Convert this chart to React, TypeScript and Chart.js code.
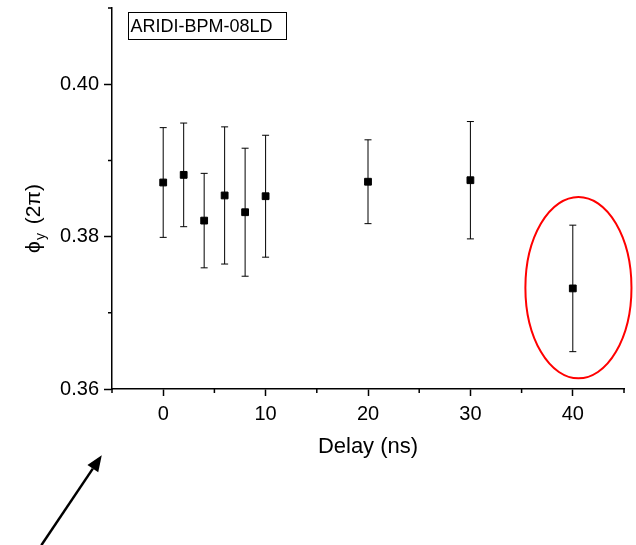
import React, { useEffect, useRef } from "react";
import { Chart, registerables } from "chart.js";

Chart.register(...registerables);

// ---- data ----
const delays = [0, 2, 4, 6, 8, 10, 20, 30, 40];
const phaseY = [0.3871, 0.3881, 0.3821, 0.3854, 0.3832, 0.3853, 0.3872, 0.3874, 0.3732];
const phaseErr = [0.0072, 0.0068, 0.0062, 0.009, 0.0084, 0.008, 0.0055, 0.0077, 0.0083];

const xRange = [-5, 45];
const yRange = [0.36, 0.41];
const xMajorTicks = [0, 10, 20, 30, 40];
const xMinorTicks = [-5, 5, 15, 25, 35, 45];
const yMajorTicks = [0.36, 0.38, 0.4];
const yMinorTicks = [0.37, 0.39, 0.41];

const xTitle = "Delay (ns)";
const yTitleMain = "\u03D5";
const yTitleSub = "y";
const yTitleRest = " (2\u03C0)";
const boxLabel = "ARIDI-BPM-08LD";

// annotations in data units
const boxAnchor = [-3.4, 0.4095];
const highlightCenter = [40.55, 0.3733];
const highlightRadii = [5.18, 0.0119];
const arrowTail = [-11.9, 0.3395];
const arrowTip = [-6.0, 0.3513];

const FONT = "'Liberation Sans', Arial, Helvetica, sans-serif";

const overlay = {
  id: "overlay",
  beforeDatasetsDraw(chart: any) {
    const { ctx, scales } = chart;
    const x = scales.x;
    const y = scales.y;
    ctx.save();
    ctx.strokeStyle = "#000";
    ctx.lineWidth = 1;
    delays.forEach((d, i) => {
      const px = x.getPixelForValue(d);
      const top = y.getPixelForValue(phaseY[i] + phaseErr[i]);
      const bot = y.getPixelForValue(phaseY[i] - phaseErr[i]);
      ctx.beginPath();
      ctx.moveTo(px, top);
      ctx.lineTo(px, bot);
      ctx.moveTo(px - 3.5, top);
      ctx.lineTo(px + 3.5, top);
      ctx.moveTo(px - 3.5, bot);
      ctx.lineTo(px + 3.5, bot);
      ctx.stroke();
    });
    ctx.restore();
  },
  afterDraw(chart: any) {
    const { ctx, scales, chartArea } = chart;
    const x = scales.x;
    const y = scales.y;
    ctx.save();
    // minor ticks
    ctx.strokeStyle = "#000";
    ctx.lineWidth = 1.5;
    ctx.beginPath();
    xMinorTicks.forEach((v) => {
      const px = x.getPixelForValue(v);
      ctx.moveTo(px, chartArea.bottom);
      ctx.lineTo(px, chartArea.bottom + 4);
    });
    yMinorTicks.forEach((v) => {
      const py = y.getPixelForValue(v);
      ctx.moveTo(chartArea.left - 4, py);
      ctx.lineTo(chartArea.left, py);
    });
    ctx.stroke();

    // y title, rotated, with subscript
    ctx.save();
    ctx.translate(chartArea.left - 72, (chartArea.top + chartArea.bottom) / 2 + 20);
    ctx.rotate(-Math.PI / 2);
    ctx.fillStyle = "#000";
    ctx.textBaseline = "alphabetic";
    ctx.textAlign = "left";
    const mainFont = `21px ${FONT}`;
    const subFont = `14px ${FONT}`;
    ctx.font = mainFont;
    const w1 = ctx.measureText(yTitleMain).width;
    const w3 = ctx.measureText(yTitleRest).width;
    ctx.font = subFont;
    const w2 = ctx.measureText(yTitleSub).width;
    const total = w1 + 1 + w2 + 3 + w3;
    let cx = -total / 2;
    ctx.font = mainFont;
    ctx.fillText(yTitleMain, cx, 0);
    cx += w1 + 1;
    ctx.font = subFont;
    ctx.fillText(yTitleSub, cx, 5);
    cx += w2 + 3;
    ctx.font = mainFont;
    ctx.fillText(yTitleRest, cx, 0);
    ctx.restore();

    // label box
    ctx.font = `18px ${FONT}`;
    const bx = x.getPixelForValue(boxAnchor[0]);
    const by = y.getPixelForValue(boxAnchor[1]);
    const tw = ctx.measureText(boxLabel).width;
    ctx.lineWidth = 1;
    ctx.strokeRect(Math.round(bx) + 0.5, Math.round(by) + 0.5, Math.round(tw + 16), 27);
    ctx.fillStyle = "#000";
    ctx.textBaseline = "alphabetic";
    ctx.fillText(boxLabel, bx + 2, by + 20);

    // red highlight ellipse
    const ex = x.getPixelForValue(highlightCenter[0]);
    const ey = y.getPixelForValue(highlightCenter[1]);
    const erx = Math.abs(x.getPixelForValue(highlightCenter[0] + highlightRadii[0]) - ex);
    const ery = Math.abs(y.getPixelForValue(highlightCenter[1] + highlightRadii[1]) - ey);
    ctx.strokeStyle = "#ff0000";
    ctx.lineWidth = 2;
    ctx.beginPath();
    ctx.ellipse(ex, ey, erx, ery, 0, 0, Math.PI * 2);
    ctx.stroke();

    // arrow
    const tx = x.getPixelForValue(arrowTail[0]);
    const ty = y.getPixelForValue(arrowTail[1]);
    const hx = x.getPixelForValue(arrowTip[0]);
    const hy = y.getPixelForValue(arrowTip[1]);
    const ang = Math.atan2(hy - ty, hx - tx);
    const headLen = 16;
    const headHalf = 6.5;
    const baseX = hx - headLen * Math.cos(ang);
    const baseY = hy - headLen * Math.sin(ang);
    ctx.strokeStyle = "#000";
    ctx.fillStyle = "#000";
    ctx.lineWidth = 2.5;
    ctx.beginPath();
    ctx.moveTo(tx, ty);
    ctx.lineTo(baseX, baseY);
    ctx.stroke();
    ctx.beginPath();
    ctx.moveTo(hx, hy);
    ctx.lineTo(baseX + headHalf * Math.sin(ang), baseY - headHalf * Math.cos(ang));
    ctx.lineTo(baseX - headHalf * Math.sin(ang), baseY + headHalf * Math.cos(ang));
    ctx.closePath();
    ctx.fill();
    ctx.restore();
  },
};

export default function App() {
  const ref = useRef<HTMLCanvasElement | null>(null);
  useEffect(() => {
    document.body.style.margin = "0";
    const canvas = ref.current;
    if (!canvas) return;
    const chart = new Chart(canvas, {
      type: "scatter",
      data: {
        datasets: [
          {
            data: delays.map((d, i) => ({ x: d, y: phaseY[i] })),
            backgroundColor: "#000",
            borderColor: "#000",
            borderWidth: 1,
            pointStyle: "rect",
            pointRadius: 4.8,
            showLine: false,
          },
        ],
      },
      options: {
        animation: false,
        responsive: false,
        devicePixelRatio: 1,
        layout: { padding: { top: 8, right: 12, left: 0, bottom: 0 } },
        plugins: { legend: { display: false }, tooltip: { enabled: false } },
        scales: {
          x: {
            type: "linear",
            min: xRange[0],
            max: xRange[1],
            afterBuildTicks: (s: any) => {
              s.ticks = xMajorTicks.map((v) => ({ value: v }));
            },
            afterFit: (s: any) => {
              s.height = 156;
              s.paddingLeft = 0;
              s.paddingRight = 0;
            },
            ticks: {
              autoSkip: false,
              maxRotation: 0,
              padding: 6,
              color: "#000",
              font: { family: FONT, size: 20 },
              callback: (v: any) => String(v),
            },
            grid: {
              display: true,
              drawOnChartArea: false,
              drawTicks: true,
              tickLength: 7,
              tickColor: "#000",
              tickWidth: 1.5,
            },
            border: { display: true, color: "#000", width: 1.5 },
            title: {
              display: true,
              text: xTitle,
              color: "#000",
              font: { family: FONT, size: 22, lineHeight: 1 },
              padding: { top: 0, bottom: 87 },
            },
          },
          y: {
            type: "linear",
            min: yRange[0],
            max: yRange[1],
            afterBuildTicks: (s: any) => {
              s.ticks = yMajorTicks.map((v) => ({ value: v }));
            },
            afterFit: (s: any) => {
              s.width = 112;
              s.paddingTop = 0;
              s.paddingBottom = 0;
            },
            ticks: {
              autoSkip: false,
              padding: 5,
              color: "#000",
              font: { family: FONT, size: 20 },
              callback: (v: any) => Number(v).toFixed(2),
            },
            grid: {
              display: true,
              drawOnChartArea: false,
              drawTicks: true,
              tickLength: 8,
              tickColor: "#000",
              tickWidth: 1.5,
            },
            border: { display: true, color: "#000", width: 1.5 },
          },
        },
      },
      plugins: [overlay],
    });
    return () => chart.destroy();
  }, []);
  return (
    <div style={{ position: "absolute", left: 0, top: 0, width: 636, height: 545, background: "#fff" }}>
      <canvas ref={ref} width={636} height={545} style={{ display: "block", width: 636, height: 545 }} />
    </div>
  );
}
